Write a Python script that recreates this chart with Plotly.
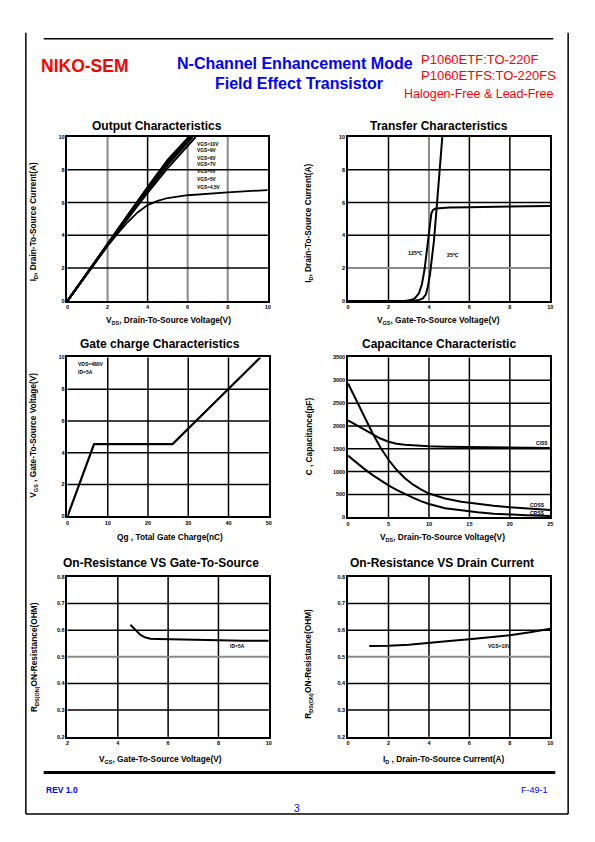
import plotly.graph_objects as go

# The page body adds an 8px margin; the figure is sized and offset to fit the window.
OFF = 8
W, H = 579, 826
FONT = "Liberation Sans, Arial, sans-serif"

# ---------------- data ----------------
# Output characteristics (VDS [V] -> ID [A])
out_labels = ["VGS=10V", "VGS=9V", "VGS=8V", "VGS=7V", "VGS=6V", "VGS=5V", "VGS=4.5V"]
out_vds_10 = [0, 0.5, 1, 2, 3, 4, 5, 6.05]
out_id_10 = [0, 0.88, 1.76, 3.5, 5.22, 6.95, 8.6, 10]
out_vds_9 = [0, 0.5, 1, 2, 3, 4, 5, 6.1]
out_id_9 = [0, 0.88, 1.75, 3.48, 5.2, 6.9, 8.52, 10]
out_vds_8 = [0, 0.5, 1, 2, 3, 4, 5, 6.15]
out_id_8 = [0, 0.87, 1.74, 3.46, 5.17, 6.85, 8.45, 10]
out_vds_7 = [0, 0.5, 1, 2, 3, 4, 5, 6.2]
out_id_7 = [0, 0.87, 1.73, 3.44, 5.13, 6.8, 8.38, 10]
out_vds_6 = [0, 0.5, 1, 2, 3, 4, 5, 6.25]
out_id_6 = [0, 0.86, 1.72, 3.42, 5.1, 6.74, 8.3, 10]
out_vds_5 = [0, 0.5, 1, 2, 3, 4, 5, 6, 6.4]
out_id_5 = [0, 0.85, 1.7, 3.38, 5.0, 6.6, 8.1, 9.45, 10]
out_vds_45 = [0, 0.5, 1, 1.5, 2, 2.5, 3, 3.5, 4, 4.5, 5, 6, 7, 8, 9, 10]
out_id_45 = [0, 0.85, 1.7, 2.55, 3.35, 4.1, 4.8, 5.4, 5.85, 6.1, 6.28, 6.45, 6.55, 6.62, 6.7, 6.76]

# Transfer characteristics (VGS [V] -> ID [A])
tr_vgs_25 = [0, 3.2, 3.5, 3.7, 3.85, 3.95, 4.05, 4.15, 4.25, 4.35, 4.45, 4.55, 4.66]
tr_id_25 = [0, 0, 0.05, 0.15, 0.4, 0.9, 1.6, 2.5, 3.7, 5.2, 6.6, 8.2, 10]
tr_vgs_125 = [0, 2.8, 3.1, 3.3, 3.5, 3.65, 3.78, 3.88, 3.97, 4.05, 4.12, 4.2, 4.3, 4.5, 5, 6, 7, 8, 9, 10]
tr_id_125 = [0, 0, 0.05, 0.15, 0.45, 1.0, 1.9, 3.0, 4.1, 4.9, 5.35, 5.55, 5.62, 5.66, 5.7, 5.72, 5.73, 5.74, 5.76, 5.8]

# Gate charge (Qg [nC] -> VGS [V])
gc_qg = [0, 6.6, 26.1, 47.9]
gc_vgs = [0, 4.55, 4.55, 10]

# Capacitance (VDS [V] -> C [pF])
cap_vds = [0, 1, 2, 3, 4, 5, 6, 7, 8, 9, 10, 12, 14, 16, 18, 20, 22, 25]
cap_ciss = [2120, 2020, 1920, 1815, 1725, 1655, 1612, 1588, 1572, 1563, 1556, 1546, 1540, 1535, 1530, 1525, 1520, 1515]
cap_coss = [2930, 2570, 2210, 1850, 1530, 1260, 1040, 860, 720, 610, 520, 410, 340, 290, 255, 222, 195, 160]
cap_crss = [1350, 1200, 1060, 930, 810, 700, 600, 510, 430, 355, 290, 200, 150, 110, 80, 58, 45, 30]

# On-resistance vs VGS
rg_vgs = [4.5, 4.7, 4.9, 5.1, 5.3, 5.6, 6, 7, 8, 9, 10]
rg_r = [0.62, 0.6, 0.582, 0.572, 0.568, 0.567, 0.566, 0.563, 0.561, 0.56, 0.56]

# On-resistance vs ID
rd_id = [1.05, 2, 3, 4, 5, 6, 7, 8, 9, 10]
rd_r = [0.54, 0.541, 0.545, 0.551, 0.559, 0.566, 0.573, 0.581, 0.592, 0.605]

# ---------------- layout helpers ----------------
def px(x):
    return (x - OFF) / W


def py(y):
    return 1 - (y - OFF) / H


panels = {
    1: (66, 135, 268, 300),
    2: (349, 135, 553, 300),
    3: (66, 357, 269, 517),
    4: (349, 357, 553, 518),
    5: (66, 578, 269, 739),
    6: (349, 578, 553, 739),
}
axis_specs = {
    1: dict(xr=[0, 10], xd=2, yr=[0, 10], yd=2, yf=None),
    2: dict(xr=[0, 10], xd=2, yr=[0, 10], yd=2, yf=None),
    3: dict(xr=[0, 50], xd=10, yr=[0, 10], yd=2, yf=None),
    4: dict(xr=[0, 25], xd=5, yr=[0, 3500], yd=500, yf=None),
    5: dict(xr=[2, 10], xd=2, yr=[0.2, 0.8], yd=0.1, yf=".1f"),
    6: dict(xr=[0, 10], xd=2, yr=[0.2, 0.8], yd=0.1, yf=".1f"),
}
# gridlines that look grey in the scan
gray_x = {1: [2, 6, 8], 2: [4]}
gray_y = {2: [2], 5: [0.5], 6: [0.5]}

fig = go.Figure()


def ax(i, kind):
    return kind if i == 1 else f"{kind}{i}"


def add_line(i, x, y, width=2):
    fig.add_trace(go.Scatter(
        x=x, y=y, mode="lines",
        line=dict(color="black", width=width),
        xaxis=ax(i, "x"), yaxis=ax(i, "y"),
        showlegend=False, hoverinfo="skip"))


# Output characteristics
add_line(1, out_vds_10, out_id_10, 2)
add_line(1, out_vds_9, out_id_9, 2)
add_line(1, out_vds_8, out_id_8, 2)
add_line(1, out_vds_7, out_id_7, 2)
add_line(1, out_vds_6, out_id_6, 2)
add_line(1, out_vds_5, out_id_5, 2)
add_line(1, out_vds_45, out_id_45, 1.8)
# Transfer
add_line(2, tr_vgs_125, tr_id_125, 2)
add_line(2, tr_vgs_25, tr_id_25, 2)
# Gate charge
add_line(3, gc_qg, gc_vgs, 2.2)
# Capacitance
add_line(4, cap_vds, cap_ciss, 2)
add_line(4, cap_vds, cap_coss, 2)
add_line(4, cap_vds, cap_crss, 2)
# On-resistance
add_line(5, rg_vgs, rg_r, 2)
add_line(6, rd_id, rd_r, 2)

layout = dict(
    width=W, height=H,
    margin=dict(l=0, r=0, t=0, b=0),
    paper_bgcolor="white", plot_bgcolor="white",
    font=dict(family=FONT, color="black"),
    showlegend=False,
)

tickfont = dict(family=FONT, size=5.5, color="black", weight="bold")
shapes = []
GRAY = "#8a8a8a"

for i, (l, t, r, b) in panels.items():
    s = axis_specs[i]
    common = dict(showline=True, mirror=True, linecolor="black", linewidth=1.6,
                  showgrid=False, zeroline=False, ticks="", tickfont=tickfont,
                  fixedrange=True)
    layout[ax(i, "xaxis")] = dict(domain=[px(l), px(r)], anchor=ax(i, "y"),
                                  range=s["xr"], dtick=s["xd"], tick0=s["xr"][0], **common)
    ydict = dict(domain=[py(b), py(t)], anchor=ax(i, "x"),
                 range=s["yr"], dtick=s["yd"], tick0=s["yr"][0], **common)
    if s["yf"]:
        ydict["tickformat"] = s["yf"]
    layout[ax(i, "yaxis")] = ydict

    # gridlines (drawn as shapes beneath the curves)
    x0, x1 = s["xr"]
    n = round((x1 - x0) / s["xd"])
    for k in range(1, n):
        xv = x0 + k * s["xd"]
        col = GRAY if any(abs(xv - g) < 1e-9 for g in gray_x.get(i, [])) else "black"
        shapes.append(dict(type="line", layer="below", xref=ax(i, "x"),
                           yref=ax(i, "y") + " domain", x0=xv, x1=xv, y0=0, y1=1,
                           line=dict(color=col, width=2 if col == GRAY else 1.5)))
    y0, y1 = s["yr"]
    n = round((y1 - y0) / s["yd"])
    for k in range(1, n):
        yv = y0 + k * s["yd"]
        col = GRAY if any(abs(yv - g) < 1e-9 for g in gray_y.get(i, [])) else "black"
        shapes.append(dict(type="line", layer="below", yref=ax(i, "y"),
                           xref=ax(i, "x") + " domain", y0=yv, y1=yv, x0=0, x1=1,
                           line=dict(color=col, width=2 if col == GRAY else 1.5)))

fig.update_layout(**layout)


def pline(xa, ya, xb, yb, w=1.5):
    shapes.append(dict(type="line", xref="paper", yref="paper",
                       x0=px(xa), y0=py(ya), x1=px(xb), y1=py(yb),
                       line=dict(color="black", width=w)))


# page frame
pline(24, 30, 24, 817)
pline(24, 817, 571, 817)
pline(571, 30, 571, 817)
pline(42, 36, 556, 36)
pline(42, 775, 558, 775, 3)

fig.update_layout(shapes=shapes)

ann = []


def sub(s):
    # small lowered text without Plotly's <sub> spacer glyphs
    return f'<span style="font-size:5.5px;baseline-shift:-1.5px">{s}</span>'


def ptext(x, y, text, size, color="black", bold=True, anchor="center", angle=0):
    ann.append(dict(x=px(x), y=py(y), xref="paper", yref="paper", text=text,
                    showarrow=False, xanchor=anchor, yanchor="middle", textangle=angle,
                    font=dict(family=FONT, size=size, color=color,
                              weight="bold" if bold else "normal")))


def dtext(i, x, y, text, size=5, anchor="left"):
    ann.append(dict(x=x, y=y, xref=ax(i, "x"), yref=ax(i, "y"),
                    text=text, showarrow=False, xanchor=anchor, yanchor="middle",
                    font=dict(family=FONT, size=size, color="black", weight="bold")))


RED = "#ff0000"
BLUE = "#0000ff"
# header
ptext(83.5, 63, "NIKO-SEM", 17.5, RED)
ptext(295.5, 61, "N-Channel Enhancement Mode", 16, BLUE)
ptext(300, 81, "Field Effect Transistor", 16, BLUE)
ptext(421, 57, "P1060ETF:TO-220F", 13, RED, bold=False, anchor="left")
ptext(421, 73, "P1060ETFS:TO-220FS", 13, RED, bold=False, anchor="left")
ptext(480.5, 92, "Halogen-Free & Lead-Free", 12.5, RED, bold=False)
# footer
ptext(42, 793, "REV 1.0", 8.5, BLUE, anchor="left")
ptext(553, 793, "F-49-1", 9, BLUE, bold=False, anchor="right")
ptext(298, 811, "3", 10, BLUE, bold=False)

# panel titles
ptext(156, 124, "Output Characteristics", 12)
ptext(440.5, 124, "Transfer Characteristics", 12)
ptext(159, 343, "Gate charge Characteristics", 12)
ptext(440.5, 343, "Capacitance Characteristic", 12)
ptext(160.5, 564, "On-Resistance VS Gate-To-Source", 12)
ptext(444, 564, "On-Resistance VS Drain Current", 12)

# axis titles
AT = 8.3
ptext(167.5, 320, "V" + sub("DS") + ", Drain-To-Source Voltage(V)", AT)
ptext(32, 220, "I" + sub("D") + ", Drain-To-Source Current(A)", AT, angle=-90)
ptext(440.5, 320, "V" + sub("GS") + ", Gate-To-Source Voltage(V)", AT)
ptext(309, 222, "I" + sub("D") + ", Drain-To-Source Current(A)", AT, angle=-90)
ptext(169, 538, "Qg , Total Gate Charge(nC)", AT)
ptext(32, 435, "V" + sub("GS") + " , Gate-To-Source Voltage(V)", AT, angle=-90)
ptext(444.5, 538, "V" + sub("DS") + ", Drain-To-Source Voltage(V)", AT)
ptext(309, 436, "C , Capacitance(pF)", AT, angle=-90)
ptext(160, 762, "V" + sub("GS") + ", Gate-To-Source Voltage(V)", AT)
ptext(32, 659, "R" + sub("DS(ON)") + "ON-Resistance(OHM)", AT, angle=-90)
ptext(445.5, 762, "I" + sub("D") + " , Drain-To-Source Current(A)", AT)
ptext(309, 665, "R" + sub("DS(ON)") + "ON-Resistance(OHM)", AT, angle=-90)

# in-plot labels
out_label_y = [9.56, 9.15, 8.72, 8.3, 7.87, 7.43, 6.95]
for lab, yv in zip(out_labels, out_label_y):
    dtext(1, 6.38, yv, lab, 4.8)
dtext(2, 2.85, 2.9, "125℃", 5.3)
dtext(2, 4.8, 2.8, "25℃", 5.3)
dtext(3, 2, 9.6, "VDS=480V", 5)
dtext(3, 2, 9.1, "ID=5A", 5)
dtext(4, 23.0, 1630, "CISS", 5)
dtext(4, 22.3, 265, "COSS", 5)
dtext(4, 22.2, 105, "CRSS", 5)
dtext(5, 8.4, 0.54, "ID=5A", 5)
dtext(6, 6.8, 0.54, "VGS=10V", 5)

fig.update_layout(annotations=ann)

fig.write_html("out.html")
